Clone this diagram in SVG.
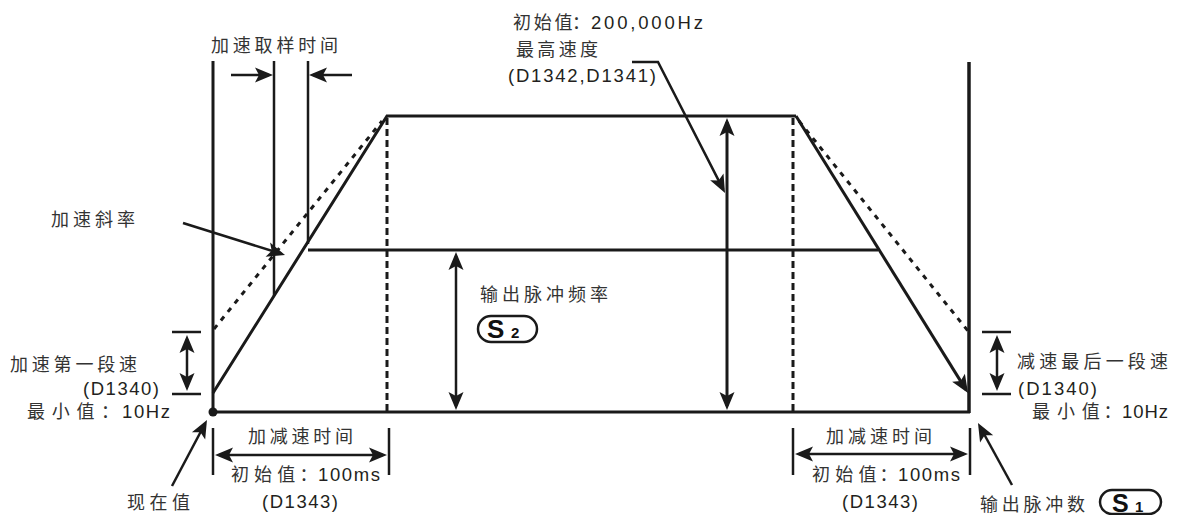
<svg xmlns="http://www.w3.org/2000/svg" width="1184" height="515" viewBox="0 0 1184 515">
<defs>
<marker id="ah" markerUnits="userSpaceOnUse" viewBox="-20 -10 30 20" markerWidth="30" markerHeight="20" refX="0" refY="0" orient="auto-start-reverse" overflow="visible">
<path d="M4,0 L-14,-7.5 L-10,0 L-14,7.5 Z" fill="#1a1a1a"/>
</marker>
<style>
.ln{stroke:#1a1a1a;stroke-width:3;fill:none;stroke-linecap:butt}
.thin{stroke-width:2.5}
.thick{stroke-width:3.5}
.dash{stroke-dasharray:7 4}
.dot{stroke-dasharray:5 6}
.arr{marker-end:url(#ah)}
.darr{marker-start:url(#ah);marker-end:url(#ah)}
.cjk{font-family:"Noto Sans CJK SC","Noto Sans",sans-serif;font-size:18px;fill:#333}
.lat{font-family:"Liberation Sans",Arial,sans-serif;font-size:18.5px;fill:#231f20}
.s{font-family:"Liberation Sans",Arial,sans-serif;font-weight:bold;fill:#111}
.oval{fill:#fff;stroke:#1a1a1a;stroke-width:2.5}
</style>
</defs>
<rect width="1184" height="515" fill="#fff"/>

<g id="curve">
<line class="ln" x1="213" y1="61" x2="213" y2="412"/>
<line class="ln thick" x1="969" y1="62" x2="969" y2="413"/>
<line class="ln" x1="213" y1="412" x2="970" y2="412"/>
<polyline class="ln" points="213,393 387,116 796,116"/>
<line class="ln" x1="796" y1="116" x2="965.9" y2="389.6" style="marker-end:url(#ah)"/>
<line class="ln" x1="308" y1="250" x2="878" y2="250"/>
<line class="ln dash" x1="387" y1="118" x2="387" y2="412"/>
<line class="ln dash" x1="793" y1="118" x2="793" y2="412"/>
<line class="ln dot" x1="214" y1="329" x2="382" y2="121"/>
<line class="ln dot" x1="799" y1="121" x2="968" y2="331"/>
<circle cx="213" cy="412" r="4.5" fill="#1a1a1a"/>
</g>

<g id="connectors">
<line class="ln thin" x1="274" y1="61" x2="274" y2="296"/>
<line class="ln thin" x1="308" y1="61" x2="308" y2="244"/>
<line class="ln thin arr" x1="231" y1="75" x2="269" y2="75"/>
<line class="ln thin arr" x1="352" y1="75" x2="313" y2="75"/>
<line class="ln thin darr" x1="456" y1="256" x2="456" y2="406"/>
<line class="ln darr" x1="727" y1="122" x2="727" y2="406"/>
<polyline class="ln thin" points="632,62 658,62 723.2,189.4" style="marker-end:url(#ah)"/>
<line class="ln thin arr" x1="183" y1="223" x2="281.2" y2="253.8"/>
<line class="ln thin arr" x1="172" y1="486" x2="205.1" y2="423.5"/>
<line class="ln thin arr" x1="1012" y1="485" x2="979.9" y2="426.5"/>
<line class="ln thin" x1="172" y1="332" x2="201" y2="332"/>
<line class="ln thin" x1="172" y1="394" x2="201" y2="394"/>
<line class="ln thin darr" x1="187" y1="339" x2="187" y2="387"/>
<line class="ln thin" x1="982" y1="332" x2="1011" y2="332"/>
<line class="ln thin" x1="982" y1="394" x2="1011" y2="394"/>
<line class="ln thin darr" x1="997" y1="339" x2="997" y2="387"/>
<line class="ln thin" x1="213" y1="428" x2="213" y2="475"/>
<line class="ln thin" x1="389" y1="428" x2="389" y2="475"/>
<line class="ln thin darr" x1="219" y1="455" x2="383" y2="455"/>
<line class="ln thin" x1="793" y1="428" x2="793" y2="475"/>
<line class="ln thin" x1="970" y1="428" x2="970" y2="475"/>
<line class="ln thin darr" x1="799" y1="454" x2="964" y2="454"/>
</g>

<g id="label-sample-time"><text class="cjk" x="211" y="52" textLength="127" lengthAdjust="spacing">加速取样时间</text></g>
<g id="label-max-speed">
<text class="cjk" x="513 533.8 554.6 572" y="29">初始值：</text>
<text class="lat" x="591" y="29" textLength="112" lengthAdjust="spacing">200,000Hz</text>
<text class="cjk" x="516" y="56" textLength="82" lengthAdjust="spacing">最高速度</text>
<text class="lat" x="508" y="82" textLength="148" lengthAdjust="spacing">(D1342,D1341)</text>
</g>
<g id="label-slope"><text class="cjk" x="51" y="226" textLength="84" lengthAdjust="spacing">加速斜率</text></g>
<g id="label-first-speed">
<text class="cjk" x="10" y="371" textLength="127" lengthAdjust="spacing">加速第一段速</text>
<text class="lat" x="83" y="395" textLength="76" lengthAdjust="spacing">(D1340)</text>
<text class="cjk" x="27 51.7 76.4 101" y="418">最小值：</text>
<text class="lat" x="122" y="418" textLength="48" lengthAdjust="spacing">10Hz</text>
</g>
<g id="label-current"><text class="cjk" x="127" y="509" textLength="63" lengthAdjust="spacing">现在值</text></g>
<g id="label-acc-time-left">
<text class="cjk" x="248" y="443" textLength="105" lengthAdjust="spacing">加减速时间</text>
<text class="cjk" x="231 254.1 277.2 299.5" y="481">初始值：</text>
<text class="lat" x="318" y="481" textLength="62" lengthAdjust="spacing">100ms</text>
<text class="lat" x="262" y="508" textLength="76" lengthAdjust="spacing">(D1343)</text>
</g>
<g id="label-acc-time-right">
<text class="cjk" x="826" y="443" textLength="106" lengthAdjust="spacing">加减速时间</text>
<text class="cjk" x="812 835.3 858.6 879.5" y="481">初始值：</text>
<text class="lat" x="898" y="481" textLength="62" lengthAdjust="spacing">100ms</text>
<text class="lat" x="842" y="508" textLength="76" lengthAdjust="spacing">(D1343)</text>
</g>
<g id="label-pulse-count">
<text class="cjk" x="980" y="511" textLength="105" lengthAdjust="spacing">输出脉冲数</text>
<rect class="oval" x="1100" y="490" width="61" height="24" rx="12"/>
<text class="s" x="1112" y="512" font-size="25">S</text>
<text class="s" x="1135" y="512" font-size="15">1</text>
</g>
<g id="label-last-speed">
<text class="cjk" x="1017" y="368" textLength="151" lengthAdjust="spacing">减速最后一段速</text>
<text class="lat" x="1018" y="395" textLength="79" lengthAdjust="spacing">(D1340)</text>
<text class="cjk" x="1032 1056.9 1081.8 1103.5" y="418">最小值：</text>
<text class="lat" x="1122" y="418" textLength="46" lengthAdjust="spacing">10Hz</text>
</g>
<g id="label-freq">
<text class="cjk" x="480" y="301" textLength="128" lengthAdjust="spacing">输出脉冲频率</text>
<rect class="oval" x="478" y="316" width="59" height="26" rx="13"/>
<text class="s" x="487" y="338" font-size="26">S</text>
<text class="s" x="511" y="338" font-size="15">2</text>
</g>
</svg>
